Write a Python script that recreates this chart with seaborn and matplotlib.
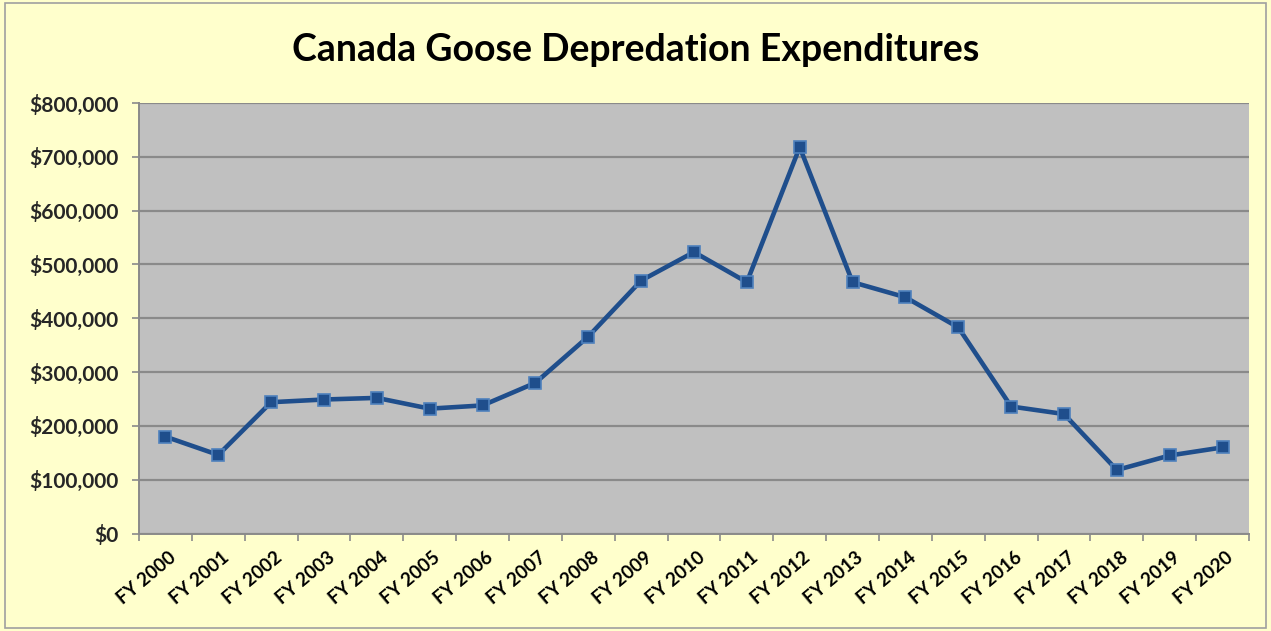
import matplotlib
matplotlib.use("Agg")
import matplotlib.pyplot as plt
import matplotlib.transforms as mtransforms
from matplotlib.ticker import FuncFormatter, FixedLocator
import seaborn as sns
import pandas as pd
import numpy as np

years = ["FY 2000", "FY 2001", "FY 2002", "FY 2003", "FY 2004", "FY 2005", "FY 2006",
         "FY 2007", "FY 2008", "FY 2009", "FY 2010", "FY 2011", "FY 2012", "FY 2013",
         "FY 2014", "FY 2015", "FY 2016", "FY 2017", "FY 2018", "FY 2019", "FY 2020"]
expenditures = [180000, 146000, 244000, 249000, 252000, 232000, 238000,
                280000, 366000, 470000, 523000, 467000, 718000, 467000,
                439000, 383000, 236000, 222000, 118000, 145000, 160000]
y_ticks = [0, 100000, 200000, 300000, 400000, 500000, 600000, 700000, 800000]
title = "Canada Goose Depredation Expenditures"

sns.set_theme(style="white")
plt.rcParams['font.family'] = ['Lato', 'DejaVu Sans']

df = pd.DataFrame({"pos": np.arange(len(years)), "value": expenditures})

bg = "#FFFFCC"
fig = plt.figure(figsize=(12.71, 6.31), dpi=100, facecolor=bg)
ax = fig.add_axes([139/1271, 1 - 533.5/631, (1249-139)/1271, (533.5-103)/631])
ax.set_facecolor("#C0C0C0")

sns.lineplot(data=df, x="pos", y="value", ax=ax, color="#1F4E8C", linewidth=3.3,
             marker="s", markersize=9, markerfacecolor="#1F4E8C",
             markeredgecolor="#4F81BD", markeredgewidth=1.2, zorder=5)

ax.set_xlim(-0.5, len(years) - 0.5)
ax.set_ylim(0, 800000)
ax.set_yticks(y_ticks)
ax.yaxis.set_major_formatter(FuncFormatter(lambda v, p: f"${v:,.0f}"))
ax.grid(axis="y", color="#8A8A8A", linewidth=1.6)
ax.set_axisbelow(True)

ax.set_xticks(np.arange(len(years)))
ax.set_xticklabels(years, rotation=40, ha="right", rotation_mode="anchor",
                   fontsize=13.5, fontweight="bold", color="black")
ax.xaxis.set_minor_locator(FixedLocator(np.arange(-0.5, len(years), 1.0)))
ax.tick_params(axis="x", which="major", length=0, pad=11)
ax.tick_params(axis="x", which="minor", length=5, width=1.2, color="#8A8A8A", bottom=True)
ax.tick_params(axis="y", length=5, width=1.2, color="#8A8A8A", left=True,
               labelsize=15, pad=10)
for lbl in ax.get_yticklabels():
    lbl.set_fontweight("bold")
offset = mtransforms.ScaledTranslation(3/100, 0, fig.dpi_scale_trans)
for lbl in ax.get_xticklabels():
    lbl.set_transform(lbl.get_transform() + offset)

for s in ["top", "right"]:
    ax.spines[s].set_visible(False)
for s in ["left", "bottom"]:
    ax.spines[s].set_color("#8A8A8A")
    ax.spines[s].set_linewidth(1.4)

ax.set_xlabel("")
ax.set_ylabel("")

fig.text(0.5, 1 - 50/631, title, ha="center", va="center", fontsize=27,
         fontweight="bold", color="black")

border = plt.Rectangle((0.004, 0.004), 0.992, 0.992, transform=fig.transFigure,
                       fill=False, edgecolor="#A0A0A0", linewidth=1.2)
fig.patches.append(border)

fig.savefig("out.png", dpi=100, facecolor=bg)
